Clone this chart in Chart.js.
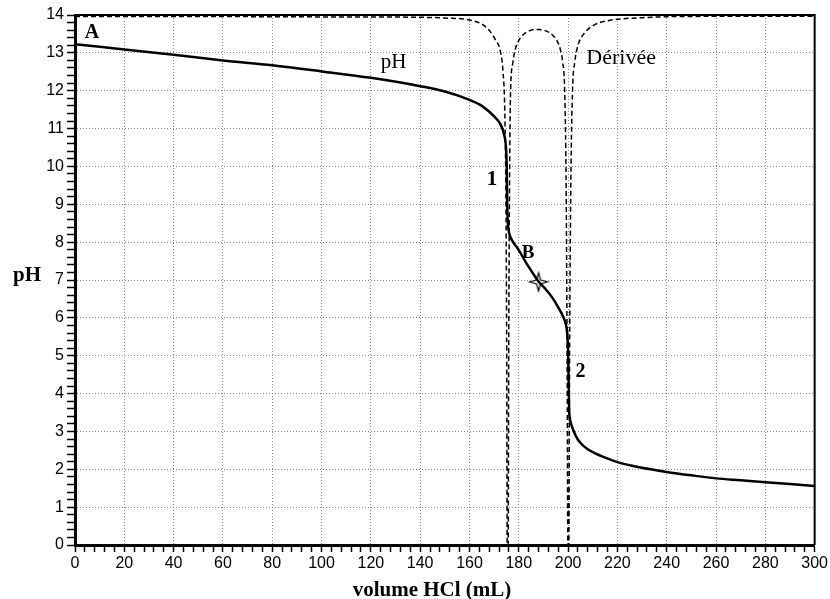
<html>
<head>
    <script src="https://cdn.jsdelivr.net/npm/chart.js@4.4.0/dist/chart.umd.min.js"></script>
    <style>body { margin: 0; background: #fff; }</style>
</head>
<body>
<div style="width:830px;height:599px"><canvas id="myChart"></canvas></div>
<script>
// pH curve
const phVolume = [0, 20, 40, 60, 80, 100, 120, 140, 150, 160, 165, 170, 172.5, 174, 174.8, 175.1, 175.3, 175.5, 175.8,
    176.4, 177.5, 180, 183, 186, 188, 191, 193.3, 196, 198, 199, 199.7, 200, 200.2, 200.4, 200.7, 201, 202, 203, 204, 206, 208, 211,
    215, 220, 230, 240, 250, 260, 270, 280, 290, 300];
const phValues = [13.23, 13.09, 12.95, 12.8, 12.67, 12.51, 12.34, 12.12, 11.98, 11.76, 11.6, 11.32, 11.12, 10.85, 10.5, 10.0, 9.0, 8.6, 8.35,
    8.17, 8.02, 7.79, 7.45, 7.15, 6.96, 6.75, 6.56, 6.28, 6.03, 5.85, 5.55, 5.1, 4.3, 3.6, 3.35, 3.25, 3.05, 2.9, 2.78, 2.63, 2.53, 2.42,
    2.31, 2.19, 2.04, 1.93, 1.84, 1.76, 1.71, 1.66, 1.61, 1.56];

// derivative curve (dashed), plotted downward from 14
const derivVolume = [0, 50, 100, 140, 150, 160, 165, 168, 170.5, 172.5, 173.6, 174.3, 174.8, 175.1, 175.3, 175.7, 175.9, 176.2,
    176.6, 177.5, 178.6, 180.5, 182.5, 185, 188, 191, 193.5, 195.5, 196.8, 197.8, 198.6, 199.2, 199.6, 199.9, 200.3, 200.6,
    201.1, 201.8, 202.7, 204, 205.5, 208, 212, 217, 222, 230, 245, 300];
const derivValues = [13.96, 13.96, 13.95, 13.94, 13.92, 13.87, 13.76, 13.6, 13.35, 13.05, 12.5, 11.5, 9, 5, 0, 0, 5, 9,
    11.8, 12.7, 13.1, 13.38, 13.52, 13.6, 13.62, 13.58, 13.48, 13.32, 13.1, 12.75, 12, 9.5, 5, 0, 0, 5,
    9.5, 12, 12.75, 13.2, 13.42, 13.62, 13.78, 13.86, 13.9, 13.93, 13.96, 13.97];

// point B (star)
const starVolume = [188];
const starPh = [6.95];

// text labels placed in data coordinates
const labels = [
    { text: "A", x: 4, y: 13.39, font: "bold 20px 'Liberation Serif'" },
    { text: "pH", x: 124, y: 12.6, font: "21px 'Liberation Serif'" },
    { text: "Dérivée", x: 207.4, y: 12.7, font: "22px 'Liberation Serif'" },
    { text: "1", x: 167, y: 9.51, font: "bold 21px 'Liberation Serif'" },
    { text: "B", x: 181.2, y: 7.58, font: "bold 19px 'Liberation Serif'" },
    { text: "2", x: 203, y: 4.44, font: "bold 20px 'Liberation Serif'" }
];

const toPoints = (xs, ys) => xs.map((x, i) => ({ x: x, y: ys[i] }));

// small 4-point star used as the marker for B
function makeStar() {
    const c = document.createElement("canvas");
    c.width = 22; c.height = 22;
    const g = c.getContext("2d");
    const cx = 11, cy = 11, r = 9, ri = 2.8;
    g.beginPath();
    for (let i = 0; i < 8; i++) {
        const a = -Math.PI / 2 + i * Math.PI / 4;
        const rr = i % 2 === 0 ? r : ri;
        const px = cx + rr * Math.cos(a), py = cy + rr * Math.sin(a);
        if (i === 0) g.moveTo(px, py); else g.lineTo(px, py);
    }
    g.closePath();
    g.fillStyle = "#fff";
    g.fill();
    g.lineWidth = 1.2;
    g.strokeStyle = "#000";
    g.stroke();
    return c;
}

const isInt = v => Math.abs(v - Math.round(v)) < 1e-6;

const textPlugin = {
    id: "texts",
    beforeDatasetsDraw(chart) {
        const { ctx, chartArea } = chart;
        ctx.save();
        ctx.strokeStyle = "#000";
        ctx.lineWidth = 2;
        ctx.beginPath();
        ctx.moveTo(chartArea.left, chartArea.top);
        ctx.lineTo(chartArea.right, chartArea.top);
        ctx.lineTo(chartArea.right, chartArea.bottom);
        ctx.stroke();
        ctx.restore();
    },
    afterDraw(chart) {
        const { ctx, scales } = chart;
        ctx.save();
        ctx.fillStyle = "#000";
        ctx.textBaseline = "alphabetic";
        ctx.textAlign = "left";
        labels.forEach(l => {
            ctx.font = l.font;
            ctx.fillText(l.text, scales.x.getPixelForValue(l.x), scales.y.getPixelForValue(l.y));
        });
        // axis titles
        ctx.font = "bold 21px 'Liberation Serif'";
        ctx.fillText("pH", 13, 281);
        ctx.textAlign = "center";
        ctx.fillText("volume HCl (mL)", 432, 596);
        ctx.restore();
    }
};

const ctx = document.getElementById("myChart").getContext("2d");
const chart = new Chart(ctx, {
    type: "scatter",
    data: {
        datasets: [
            {
                label: "Dérivée",
                data: toPoints(derivVolume, derivValues),
                showLine: true,
                borderColor: "#000",
                borderWidth: 1.5,
                borderDash: [5, 3],
                pointRadius: 0,
                cubicInterpolationMode: "monotone",
                fill: false
            },
            {
                label: "pH",
                data: toPoints(phVolume, phValues),
                showLine: true,
                borderColor: "#000",
                borderWidth: 2.5,
                pointRadius: 0,
                cubicInterpolationMode: "monotone",
                fill: false
            },
            {
                label: "B",
                data: toPoints(starVolume, starPh),
                pointStyle: makeStar(),
                pointRadius: 11
            }
        ]
    },
    options: {
        responsive: true,
        maintainAspectRatio: false,
        animation: false,
        layout: { padding: { top: 15, right: 13, left: 0, bottom: 0 } },
        plugins: {
            legend: { display: false },
            tooltip: { enabled: false }
        },
        scales: {
            x: {
                type: "linear",
                min: 0,
                max: 300,
                afterFit(scale) { scale.height = 54; },
                ticks: {
                    stepSize: 4,
                    autoSkip: false,
                    maxRotation: 0,
                    padding: 2,
                    color: "#000",
                    font: { family: "'Liberation Sans'", size: 16 },
                    callback: v => (v % 20 === 0 ? v : "")
                },
                grid: {
                    color: c => (c.tick && c.tick.value % 20 === 0 ? "#8a8a8a" : "transparent"),
                    lineWidth: 1,
                    tickLength: 7,
                    tickColor: "#000",
                    tickWidth: 1.5
                },
                border: { display: true, color: "#000", width: 3, dash: [1, 2] }
            },
            y: {
                type: "linear",
                min: 0,
                max: 14,
                afterFit(scale) { scale.width = 75; },
                ticks: {
                    stepSize: 0.2,
                    autoSkip: false,
                    padding: 3,
                    color: "#000",
                    font: { family: "'Liberation Sans'", size: 16 },
                    callback: v => (isInt(v) ? Math.round(v) : "")
                },
                grid: {
                    color: c => (c.tick && isInt(c.tick.value) ? "#8a8a8a" : "transparent"),
                    lineWidth: 1,
                    tickLength: 8,
                    tickColor: "#000",
                    tickWidth: 1.5
                },
                border: { display: true, color: "#000", width: 3, dash: [1, 2] }
            }
        }
    },
    plugins: [textPlugin]
});
</script>
</body>
</html>
